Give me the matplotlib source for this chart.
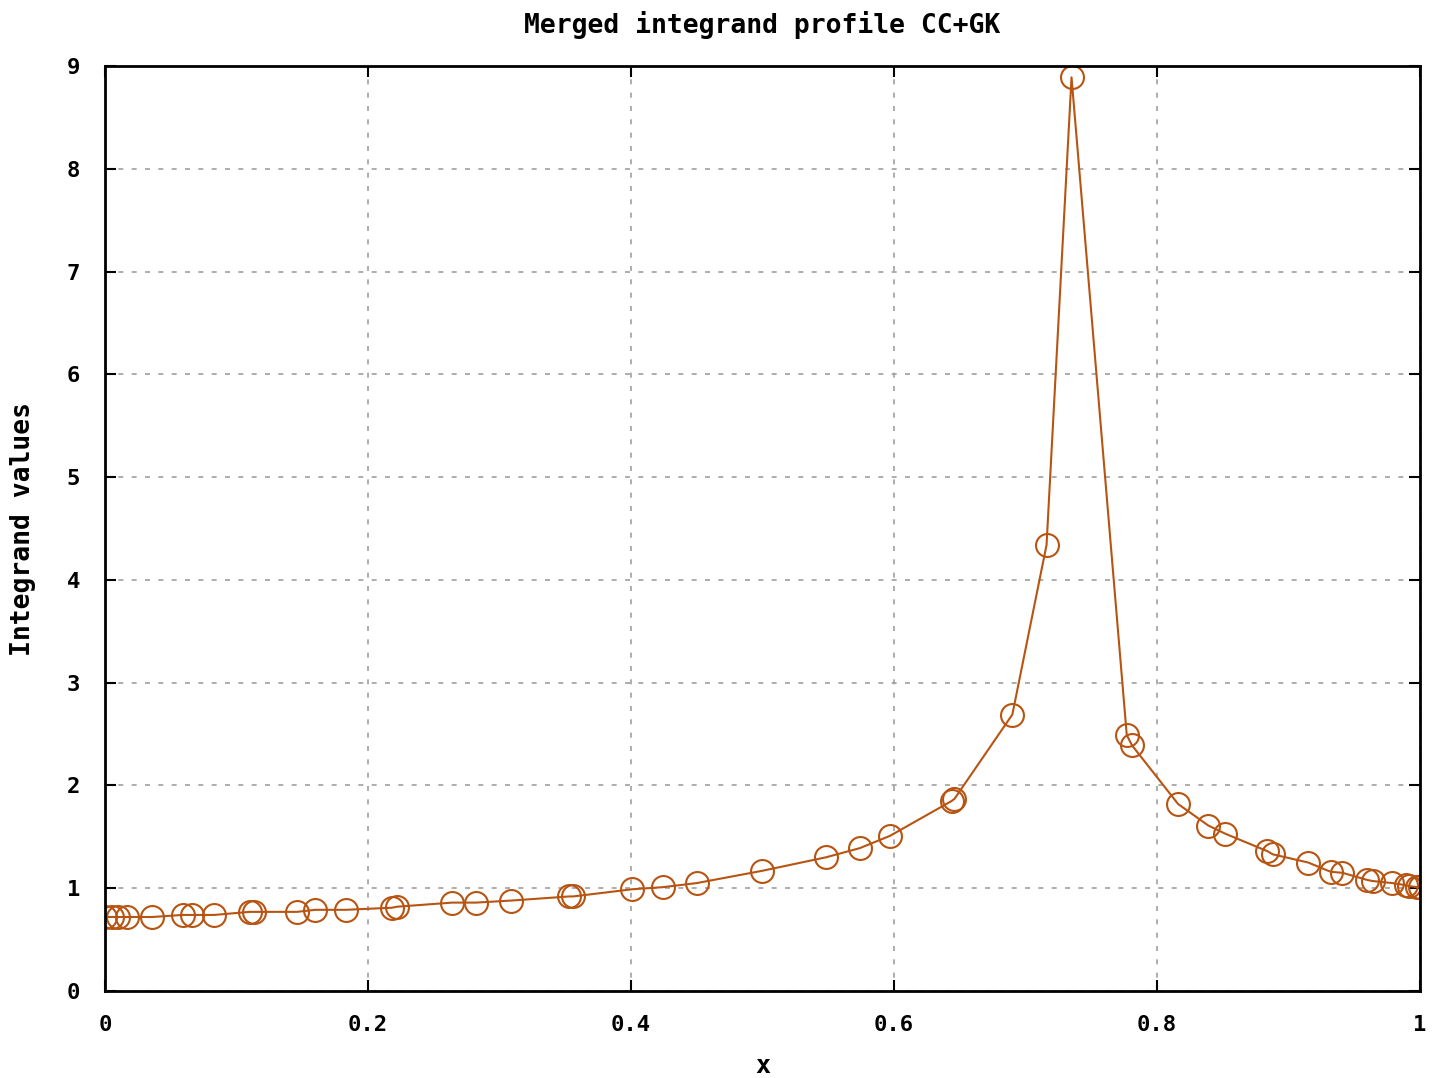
import matplotlib
matplotlib.use("Agg")
import matplotlib.pyplot as plt

x_vals = [0.000, 0.005, 0.010, 0.017, 0.036, 0.059, 0.066, 0.083, 0.110, 0.113,
          0.146, 0.160, 0.183, 0.218, 0.222, 0.264, 0.282, 0.309, 0.353, 0.356,
          0.401, 0.424, 0.450, 0.500, 0.548, 0.574, 0.597, 0.644, 0.646, 0.690,
          0.716, 0.735, 0.777, 0.781, 0.816, 0.839, 0.852, 0.884, 0.888, 0.915,
          0.932, 0.941, 0.960, 0.964, 0.979, 0.989, 0.992, 0.998, 1.000]
y_vals = [0.72, 0.72, 0.72, 0.72, 0.72, 0.74, 0.74, 0.74, 0.77, 0.77,
          0.77, 0.79, 0.79, 0.81, 0.82, 0.86, 0.86, 0.88, 0.92, 0.92,
          0.99, 1.01, 1.05, 1.17, 1.30, 1.39, 1.51, 1.85, 1.87, 2.69,
          4.34, 8.89, 2.49, 2.39, 1.82, 1.61, 1.53, 1.36, 1.33, 1.25,
          1.16, 1.15, 1.08, 1.07, 1.05, 1.03, 1.02, 1.01, 1.01]

title = "Merged integrand profile CC+GK"
xlabel = "x"
ylabel = "Integrand values"
xticks = [0, 0.2, 0.4, 0.6, 0.8, 1.0]
xticklabels = ["0", "0.2", "0.4", "0.6", "0.8", "1"]
yticks = list(range(0, 10))

color = "#b85412"
fnt = dict(family="DejaVu Sans Mono", fontweight="bold")

fig = plt.figure(figsize=(14.43, 10.78), dpi=100)
ax = fig.add_axes([105/1443, 1 - 991/1078, (1420-105)/1443, (991-66)/1078])

ax.plot(x_vals, y_vals, color=color, lw=1.5, marker="o", markersize=16.5,
        markerfacecolor="none", markeredgecolor=color, markeredgewidth=1.5)

ax.set_xlim(0, 1)
ax.set_ylim(0, 9)
ax.set_xticks(xticks)
ax.set_xticklabels(xticklabels, **fnt, fontsize=16)
ax.set_yticks(yticks)
ax.set_yticklabels([str(t) for t in yticks], **fnt, fontsize=16)
ax.tick_params(direction="in", length=8, width=1.5, top=True, right=True)
ax.tick_params(axis="x", pad=17)
ax.tick_params(axis="y", pad=18)
ax.grid(True, color="#a0a0a0", linestyle=(0, (3, 5)), linewidth=1.2)
for s in ax.spines.values():
    s.set_linewidth(2)
    s.set_color("black")

ax.set_title(title, **fnt, fontsize=19, pad=24)
ax.set_xlabel(xlabel, **fnt, fontsize=18, labelpad=14)
ax.set_ylabel(ylabel, **fnt, fontsize=19, labelpad=22)

fig.savefig("out.png", dpi=100)
